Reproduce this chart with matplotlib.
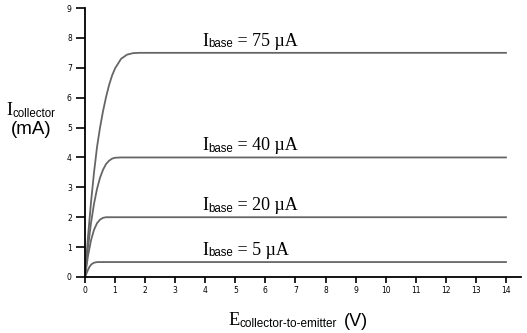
import matplotlib
matplotlib.use("Agg")
import matplotlib.pyplot as plt
from matplotlib.transforms import IdentityTransform

# Collector characteristic curves (volts, mA)
v_75 = [0, 0.1, 0.2, 0.3, 0.4, 0.5, 0.6, 0.7, 0.8, 0.9, 1.0, 1.2, 1.4, 1.6, 1.8, 14]
i_75 = [0, 1.35, 2.5, 3.5, 4.35, 5.0, 5.55, 6.02, 6.42, 6.74, 6.98, 7.30, 7.44, 7.49, 7.5, 7.5]

v_40 = [0, 0.1, 0.2, 0.3, 0.4, 0.5, 0.6, 0.7, 0.8, 0.9, 1.0, 1.2, 14]
i_40 = [0, 1.0, 1.81, 2.45, 2.95, 3.32, 3.59, 3.78, 3.89, 3.96, 3.99, 4.0, 4.0]

v_20 = [0, 0.1, 0.2, 0.3, 0.4, 0.5, 0.6, 0.7, 0.8, 14]
i_20 = [0, 0.71, 1.23, 1.58, 1.80, 1.92, 1.98, 2.0, 2.0, 2.0]

v_5 = [0, 0.05, 0.1, 0.15, 0.2, 0.25, 0.3, 0.35, 0.4, 0.5, 14]
i_5 = [0, 0.12, 0.24, 0.34, 0.41, 0.45, 0.476, 0.49, 0.498, 0.5, 0.5]

curves = [(v_75, i_75), (v_40, i_40), (v_20, i_20), (v_5, i_5)]
base_labels = ["75", "40", "20", "5"]
base_levels = [7.5, 4.0, 2.0, 0.5]

x_ticks = list(range(0, 15))
y_ticks = list(range(0, 10))

SERIF = "Liberation Serif"
SANS = "Liberation Sans"
H = 333

fig = plt.figure(figsize=(5.27, 3.33), dpi=100)
ax = fig.add_axes([85 / 527, 56 / 333, 436 / 527, 269 / 333])


def chain(x0, y0, pieces):
    # lay text pieces side by side in display pixels, each on its own baseline offset
    renderer = fig.canvas.get_renderer()
    x = x0
    for s, fam, size, dy in pieces:
        t = fig.text(x, y0 - dy, s, family=fam, fontsize=size, ha="left",
                     va="baseline", transform=IdentityTransform())
        x = t.get_window_extent(renderer).x1


for v, i in curves:
    ax.plot(v, i, color="#666666", linewidth=1.3)

ax.set_xlim(0, 14.5)
ax.set_ylim(0, 9)
ax.set_xticks(x_ticks)
ax.set_yticks(y_ticks)
ax.tick_params(axis="x", direction="out", length=4.5, width=1.2, labelsize=5.5, pad=2)
ax.tick_params(axis="y", direction="out", length=6.5, width=1.2, labelsize=5.5, pad=3)
for s in ["top", "right"]:
    ax.spines[s].set_visible(False)
for s in ["left", "bottom"]:
    ax.spines[s].set_linewidth(1.3)

for lab, lev in zip(base_labels, base_levels):
    px, py = ax.transData.transform((3.9, lev + 0.24))
    chain(px, py, [("I", SERIF, 13, 0), ("base", SANS, 8.3, 1.5),
                   (" = " + lab + " \u00b5A", SERIF, 13, 0)])

# axis titles
chain(6.5, H - 115, [("I", SERIF, 13, 0), ("collector", SANS, 8.3, 1.8)])
chain(10.5, H - 134, [("(mA)", SANS, 13.5, 0)])
chain(228.5, H - 325, [("E", SERIF, 13.2, 0), ("collector-to-emitter", SANS, 8.5, 2)])
chain(344, H - 326, [("(V)", SANS, 13, 0)])

fig.savefig("out.png", dpi=100)
